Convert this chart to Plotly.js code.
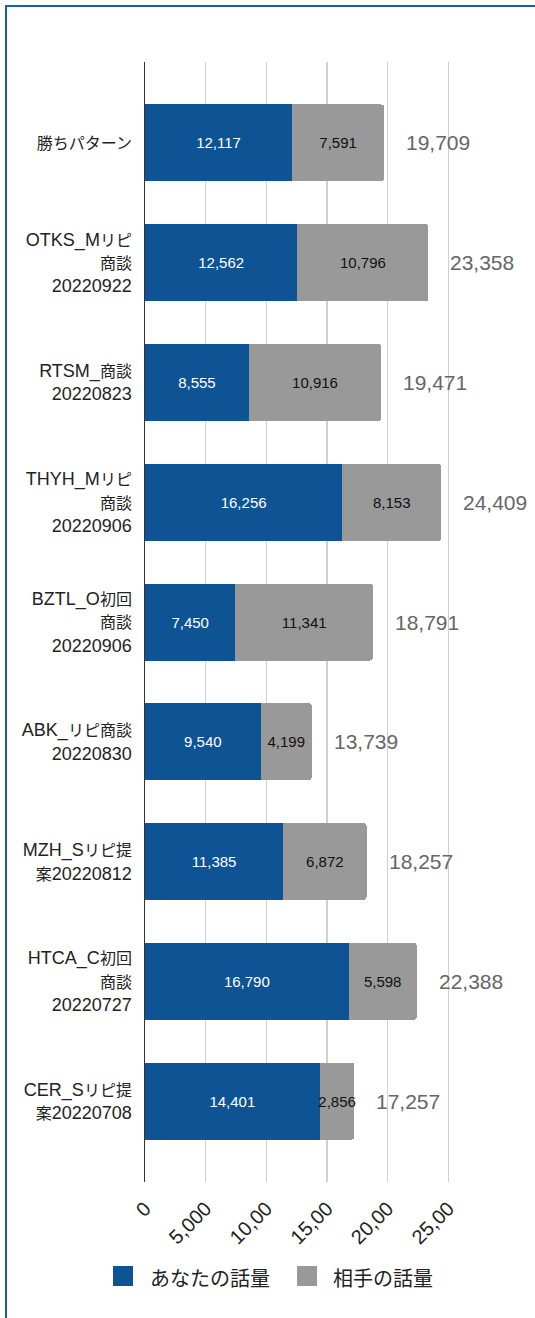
<!DOCTYPE html>
<html>
<head>
<meta charset="utf-8">
<script src="https://cdn.plot.ly/plotly-3.0.1.min.js"></script>
<style>
  html, body { margin: 0; padding: 0; background: #fff; }
  #chart { position: absolute; left: 0; top: 0; width: 535px; height: 1318px; }
  #frame { position: absolute; left: 5px; top: 5px; width: 530px; height: 1313px;
           border-left: 2px solid #1c5fa5; border-top: 2px solid #1c5fa5; box-sizing: border-box; pointer-events: none; }
</style>
</head>
<body>
<div id="chart"></div>
<div id="frame"></div>
<script>
const categories = [
  "勝ちパターン",
  "OTKS_Mリピ<br>商談<br>20220922",
  "RTSM_商談<br>20220823",
  "THYH_Mリピ<br>商談<br>20220906",
  "BZTL_O初回<br>商談<br>20220906",
  "ABK_リピ商談<br>20220830",
  "MZH_Sリピ提<br>案20220812",
  "HTCA_C初回<br>商談<br>20220727",
  "CER_Sリピ提<br>案20220708"
];
const yourTalk = [12117, 12562, 8555, 16256, 7450, 9540, 11385, 16790, 14401];
const partnerTalk = [7591, 10796, 10916, 8153, 11341, 4199, 6872, 5598, 2856];
const totals = [19709, 23358, 19471, 24409, 18791, 13739, 18257, 22388, 17257];
const seriesNames = ["あなたの話量", "相手の話量"];
const seriesColors = ["#0e5394", "#999999"];
const tickVals = [0, 5000, 10000, 15000, 20000, 25000];
const tickText = ["0", "5,000", "10,00", "15,00", "20,00", "25,00"];

const FONT = "'Liberation Sans', Arial, 'Noto Sans CJK JP', sans-serif";
const W = 535, H = 1318;
const M = {l: 145, r: 26, t: 62, b: 136};
const plotW = W - M.l - M.r;
const plotH = H - M.t - M.b;
const px2x = px => (px - M.l) / plotW;
const py2y = py => (H - M.b - py) / plotH;

// CJK runs drawn slightly smaller than the Latin text, as in the reference
const styleLabel = s => s.split("<br>").map(line =>
  line.replace(/([^\x00-\x7F]+)/g, '<span style="font-size:16px">$1</span>')
).join("<br>");
const catLabels = categories.map(styleLabel);

const traces = [
  {
    type: "bar", orientation: "h", name: seriesNames[0],
    y: categories, x: yourTalk,
    marker: {color: seriesColors[0]},
    texttemplate: "%{x:,}", textposition: "inside", insidetextanchor: "middle", textangle: 0,
    textfont: {family: FONT, size: 15, color: "#ffffff"},
    constraintext: "none",
    hoverinfo: "none"
  },
  {
    type: "bar", orientation: "h", name: seriesNames[1],
    y: categories, x: partnerTalk,
    marker: {color: seriesColors[1]},
    texttemplate: "%{x:,}", textposition: "inside", insidetextanchor: "middle", textangle: 0,
    textfont: {family: FONT, size: 15, color: "#111111"},
    constraintext: "none",
    hoverinfo: "none"
  }
];

const annotations = totals.map((t, i) => ({
  x: t, y: categories[i], xref: "x", yref: "y",
  text: t.toLocaleString("en-US"), showarrow: false,
  xanchor: "left", yanchor: "middle", xshift: 20,
  font: {family: FONT, size: 21, color: "#666666"}
}));

const legendItems = [
  {sq: [113, 133], tx: 148},
  {sq: [297, 317], tx: 331}
];
const shapes = [];
legendItems.forEach((it, i) => {
  shapes.push({
    type: "rect", xref: "paper", yref: "paper",
    x0: px2x(it.sq[0]), x1: px2x(it.sq[1]),
    y0: py2y(1286), y1: py2y(1266),
    fillcolor: seriesColors[i], line: {width: 0}
  });
  annotations.push({
    xref: "paper", yref: "paper", x: px2x(it.tx), y: py2y(1277),
    xanchor: "left", yanchor: "middle", showarrow: false,
    text: seriesNames[i],
    font: {family: "'Noto Sans CJK JP', sans-serif", size: 20, color: "#222222"}
  });
});

const layout = {
  width: W, height: H,
  margin: M,
  paper_bgcolor: "rgba(0,0,0,0)", plot_bgcolor: "#ffffff",
  barmode: "stack", bargap: 0.357, barcornerradius: 3,
  uniformtext: {mode: false},
  showlegend: false,
  font: {family: FONT, color: "#222222"},
  xaxis: {
    range: [0, 30000], tickvals: tickVals, ticktext: tickText,
    tickangle: -45, tickfont: {family: FONT, size: 20, color: "#222222"},
    ticks: "outside", ticklen: 6, tickcolor: "rgba(0,0,0,0)",
    showgrid: true, gridcolor: "#d0d0d0", gridwidth: 1.5,
    zeroline: false, showline: false, automargin: false, fixedrange: true
  },
  yaxis: {
    type: "category", range: [8.676, -0.676],
    tickvals: categories, ticktext: catLabels,
    tickfont: {family: FONT, size: 18, color: "#222222"},
    ticklabelstandoff: 8,
    showline: true, linecolor: "#333333", linewidth: 1.5,
    showgrid: false, zeroline: false, automargin: false, fixedrange: true
  },
  shapes: shapes,
  annotations: annotations
};

Plotly.newPlot("chart", traces, layout, {displayModeBar: false, staticPlot: true});
</script>
</body>
</html>
